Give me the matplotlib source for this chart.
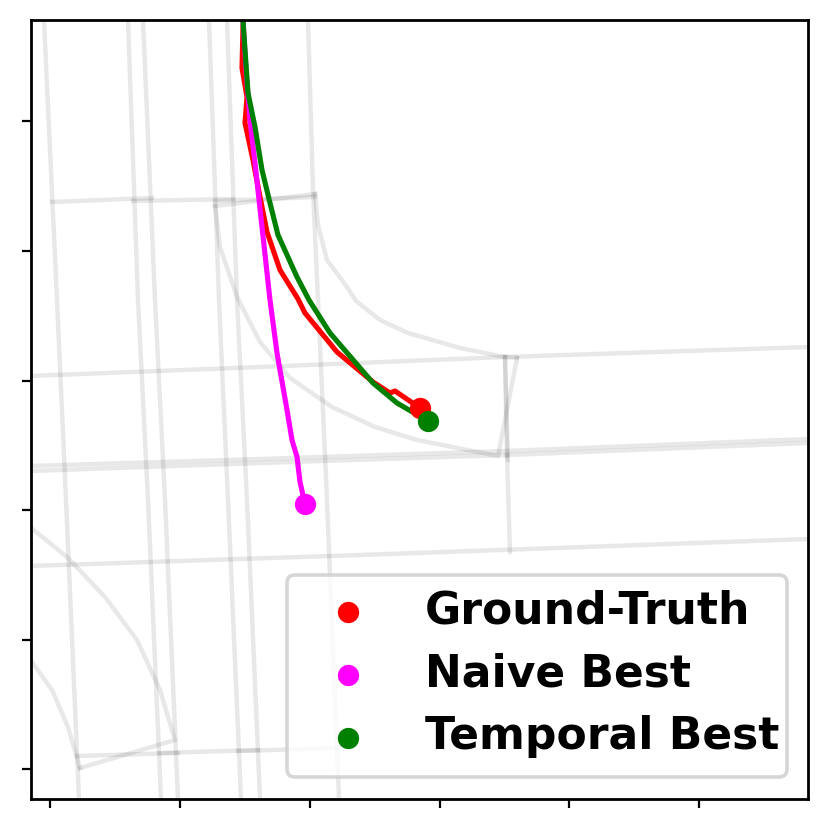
import matplotlib
matplotlib.use('Agg')
import matplotlib.pyplot as plt
from matplotlib.patches import FancyBboxPatch

# Map frame units, no tick labels on the original so the units are arbitrary
x_ticks = [50, 180, 310, 440, 569, 699]
y_ticks = [121, 251, 381, 510, 640, 769]

# Trajectories
gt_x = [243, 242, 247, 245, 253, 260, 267, 280, 298, 305, 337, 373, 390, 395, 420]
gt_y = [27, 68, 97, 123, 160, 197, 232, 270, 299, 313, 352, 382, 393, 391, 408]
naive_x = [243, 246, 250, 255, 262, 270, 277, 287, 292, 297, 300, 305]
naive_y = [21, 70, 120, 163, 227, 300, 353, 410, 440, 457, 482, 504]
temporal_x = [243, 245, 248, 255, 262, 270, 278, 297, 309, 330, 373, 397, 428]
temporal_y = [21, 50, 93, 127, 170, 203, 235, 277, 300, 333, 383, 403, 421]

# Lane boundaries from the map, each one (xs, ys)
lanes = [
    ([44, 57, 66, 79], [20, 300, 500, 799]),
    ([128, 138, 148, 161], [20, 300, 500, 799]),
    ([143, 155, 165, 178], [20, 300, 500, 799]),
    ([209, 219, 228, 241], [20, 300, 500, 799]),
    ([227, 237, 247, 260], [20, 300, 500, 799]),
    ([308, 313, 318, 327, 339], [20, 190, 300, 500, 799]),
    ([52, 152], [202, 198]),
    ([133, 233], [201, 199]),
    ([215, 315], [201, 197]),
    ([215, 315], [206, 194]),
    ([215, 220, 237, 260, 290, 332, 375, 417, 498, 517],
     [206, 247, 297, 342, 378, 407, 427, 440, 456, 358]),
    ([315, 318, 327, 347, 356, 380, 408, 460, 505, 517],
     [194, 225, 260, 287, 301, 320, 333, 348, 357, 358]),
    ([30, 260, 505, 808], [376, 367, 357, 347]),
    ([30, 260, 507, 808], [466, 459, 451, 439]),
    ([30, 260, 507, 808], [471, 463, 455, 443]),
    ([30, 360, 808], [566, 555, 539]),
    ([505, 507], [357, 456]),
    ([505, 508], [357, 460]),
    ([507, 510], [455, 552]),
    ([77, 178], [756, 753]),
    ([160, 258], [753, 750]),
    ([238, 340], [751, 748]),
    ([30, 67, 105, 137, 160, 175, 80], [527, 557, 597, 640, 690, 740, 768]),
    ([30, 52, 68, 80], [659, 690, 727, 768]),
]

fig, ax = plt.subplots(figsize=(8.3, 8.3), dpi=100)
fig.subplots_adjust(left=30.5 / 830, right=808 / 830, bottom=(830 - 799) / 830, top=(830 - 20.5) / 830)

for xs, ys in lanes:
    ax.plot(xs, ys, color='black', alpha=0.09, lw=3.2)

# Paths first, end points on top
ax.plot(gt_x, gt_y, color='red', lw=3.7)
ax.plot(naive_x, naive_y, color='magenta', lw=3.7)
ax.plot(temporal_x, temporal_y, color='green', lw=3.7)

ax.scatter(gt_x[-1], gt_y[-1], color='red', s=235, linewidths=0, zorder=3, label='Ground-Truth')
ax.scatter(naive_x[-1], naive_y[-1], color='magenta', s=235, linewidths=0, zorder=3, label='Naive Best')
ax.scatter(temporal_x[-1], temporal_y[-1], color='green', s=235, linewidths=0, zorder=3, label='Temporal Best')

ax.set_xlim(30.5, 808)
ax.set_ylim(799, 20.5)
ax.set_xticks(x_ticks)
ax.set_yticks(y_ticks)
ax.set_xticklabels([])
ax.set_yticklabels([])
ax.tick_params(length=6.5, width=1.6)
for spine in ax.spines.values():
    spine.set_linewidth(2)

# Legend frame drawn separately, the padding around the text is uneven
frame = FancyBboxPatch((287, 575), 500, 202, boxstyle='round,pad=0,rounding_size=8',
                       facecolor=(1, 1, 1, 0.8), edgecolor=(0.8, 0.8, 0.8, 0.8), lw=2.6, zorder=4.5)
ax.add_patch(frame)
leg = ax.legend(loc='lower right', prop={'weight': 'bold', 'size': 31.7}, frameon=False,
                borderpad=0.25, labelspacing=0.45, handlelength=2.2, handletextpad=0.65,
                borderaxespad=0, bbox_to_anchor=(790.5, 769.5), bbox_transform=ax.transData)

plt.savefig('out.png', dpi=100)
